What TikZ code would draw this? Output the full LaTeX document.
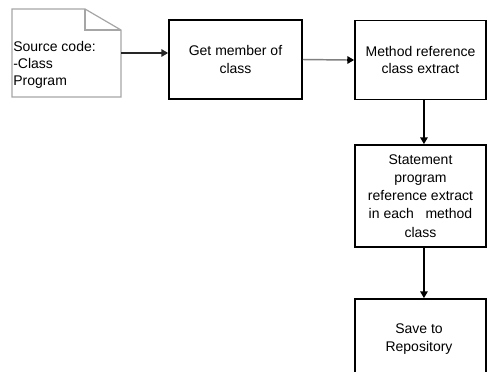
\documentclass[tikz,border=0pt]{standalone}
\usepackage{fontspec}
\setmainfont{Liberation Sans}
\usetikzlibrary{arrows.meta}
\begin{document}
\begin{tikzpicture}[x=0.75pt,y=-0.75pt,
  procbox/.style={draw=black,line width=1.3pt,fill=white,minimum width=131*0.75pt,align=center,inner sep=2pt,
    font=\fontsize{10.5pt}{13pt}\selectfont},
  conn/.style={line width=1.1pt,-{Triangle[length=5pt,width=5.5pt]}},
  doctext/.style={align=left,inner sep=0pt,anchor=north west,font=\fontsize{10.5pt}{12.5pt}\selectfont}]
\useasboundingbox (0,0) rectangle (487,372);
\begin{scope}
\clip (0,0) rectangle (487,372);
% document shape
\draw[gray!70,line width=0.9pt,fill=white] (12,9) -- (85,9) -- (121,30) -- (121,97) -- (12,97) -- cycle;
\draw[gray!70,line width=0.9pt] (85,9) -- (85,30) -- (121,30);
\node[inner sep=0pt,minimum width=109*0.75pt,minimum height=88*0.75pt] (doc) at (66.5,53) {};
\node[doctext] (doctxt) at (13,41.5) {Source code:\\-Class\\Program};
% process boxes
\node[procbox,minimum width=133*0.75pt,minimum height=79*0.75pt] (b2) at (235.5,59.5) {Get member of\\class};
\node[procbox,minimum height=79*0.75pt] (b3) at (420.5,60) {Method reference\\class extract};
\node[procbox,minimum height=102*0.75pt,font=\fontsize{10.5pt}{13.6pt}\selectfont] (b4) at (420.5,196) {Statement\\program\\reference extract\\in each\ \ \ method\\class};
\node[procbox,minimum height=84*0.75pt] (b5) at (420.5,341) {};
\node[align=center,inner sep=0pt,font=\fontsize{10.5pt}{13.5pt}\selectfont] (b5txt) at (419,339) {Save to\\Repository};
% connectors
\draw[conn,black!85] (doc.east) -- (doc.east -| b2.west);
\draw[line width=1.1pt,gray] (b2.east) -- ([xshift=-5pt]b3.west);
\draw[conn,black] ([xshift=-5.5pt]b3.west) -- (b3.west);
\draw[conn] ([xshift=2.6pt]b3.south) -- ([xshift=2.6pt]b4.north);
\draw[conn] ([xshift=2.6pt]b4.south) -- ([xshift=2.6pt]b5.north);
\end{scope}
\end{tikzpicture}
\end{document}
